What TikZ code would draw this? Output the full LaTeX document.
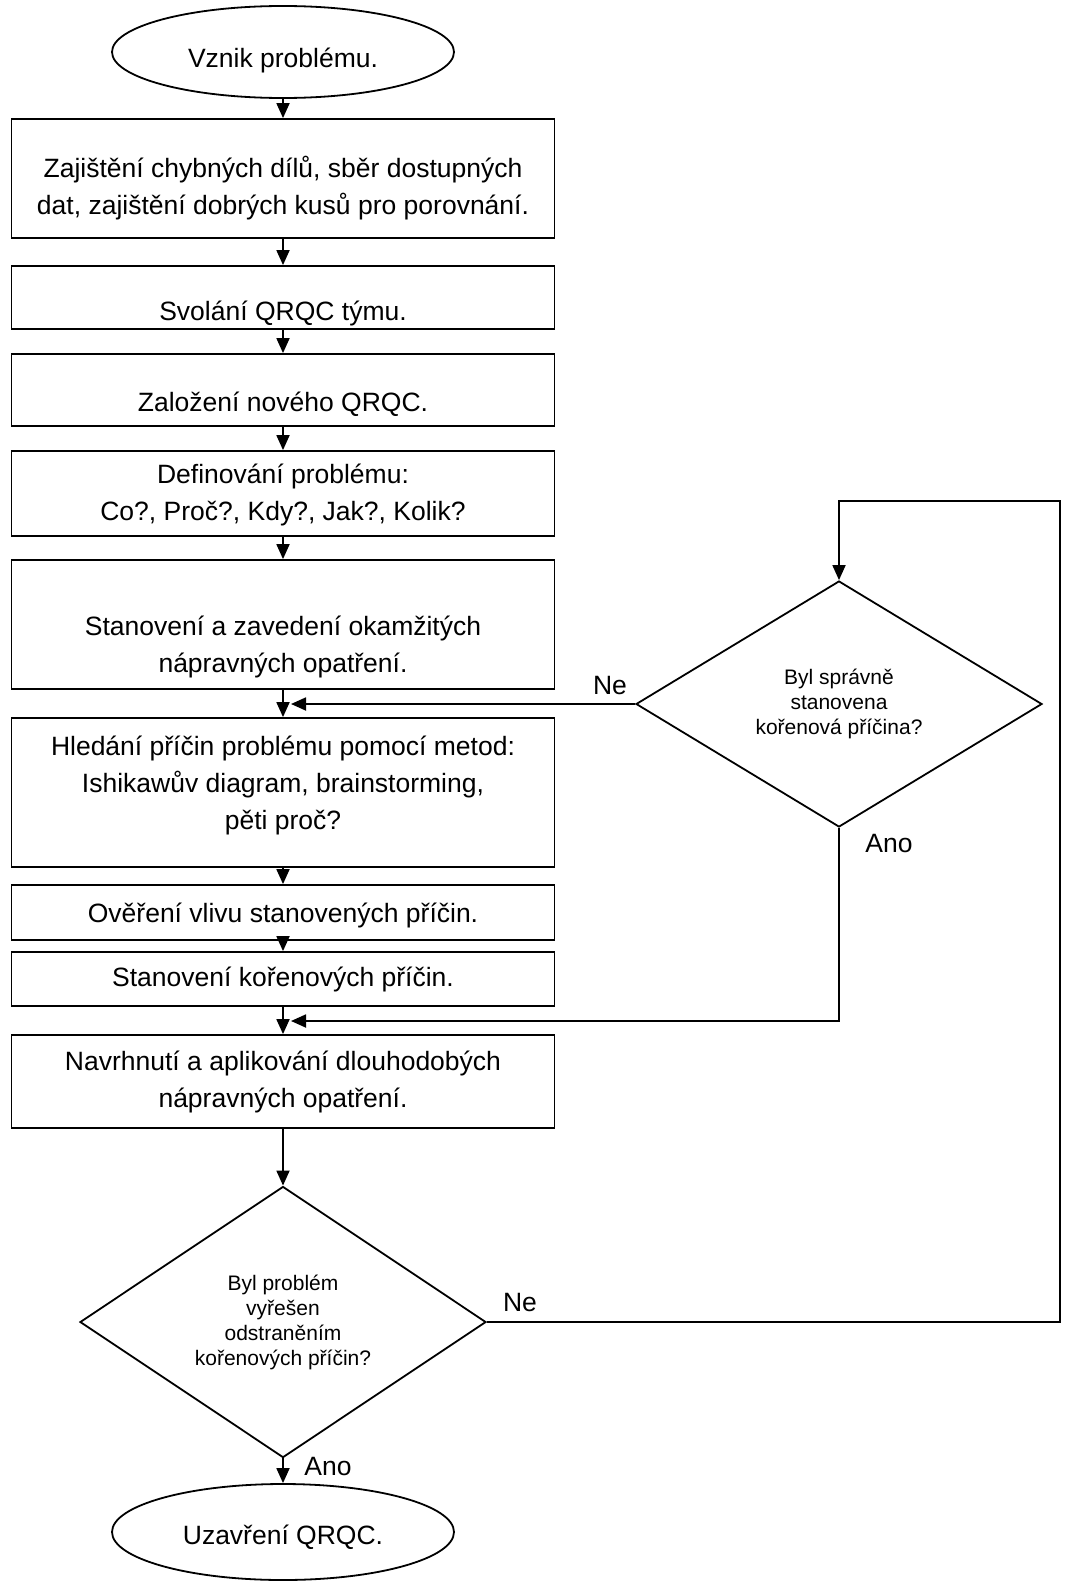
\documentclass[tikz,border=0pt]{standalone}
\usepackage{fontspec}
\setmainfont{Liberation Sans}
\usetikzlibrary{shapes.geometric,arrows.meta,positioning}

% invisible struts that push box text down / up
\newcommand{\dolu}[1]{\rule{0pt}{#1}}
\newcommand{\nahoru}[1]{\rule[-#1]{0pt}{#1}}

\begin{document}
\begin{tikzpicture}[x=1pt,y=-1pt,
    procbox/.style={draw, line width=1.8pt, minimum width=543pt, inner sep=0pt, align=center, font=\fontsize{26.5}{37}\selectfont},
    terminal/.style={draw, ellipse, line width=1.8pt, minimum width=342pt, minimum height=92pt, inner sep=0pt, font=\fontsize{26.5}{37}\selectfont},
    decision/.style={draw, diamond, line width=1.8pt, inner sep=0pt, align=center, font=\fontsize{21}{25}\selectfont},
    lbl/.style={font=\fontsize{26.5}{37}\selectfont},
    arr/.style={line width=1.8pt, -{Triangle[length=15pt,width=13pt]}}]
  \useasboundingbox (0,0) rectangle (1067,1584);

  % main column
  \node[terminal] (vznik) at (283,52) {\dolu{37pt}Vznik problému.};
  \node[procbox, minimum height=119pt] (zajisteni) at (283,178.5) {\dolu{40pt}Zajištění chybných dílů, sběr dostupných\\dat, zajištění dobrých kusů pro porovnání.};
  \node[procbox, minimum height=63pt] (svolani) at (283,297.5) {\dolu{51pt}Svolání QRQC týmu.};
  \node[procbox, minimum height=72pt] (zalozeni) at (283,390) {\dolu{47pt}Založení nového QRQC.};
  \node[procbox, minimum height=85pt] (definovani) at (283,493.5) {\dolu{23pt}Definování problému:\\Co?, Proč?, Kdy?, Jak?, Kolik?};
  \node[procbox, minimum height=129pt] (okamzita) at (283,624.5) {\dolu{65pt}Stanovení a zavedení okamžitých\\nápravných opatření.};
  \node[procbox, minimum height=149pt] (hledani) at (283,792.5) {Hledání příčin problému pomocí metod:\\Ishikawův diagram, brainstorming,\\pěti proč?\nahoru{20pt}};
  \node[procbox, minimum height=55pt] (overeni) at (283,912.5) {\dolu{25pt}Ověření vlivu stanovených příčin.};
  \node[procbox, minimum height=54pt] (korenove) at (283,979) {Stanovení kořenových příčin.};
  \node[procbox, minimum height=93pt] (dlouhodoba) at (283,1081.5) {Navrhnutí a aplikování dlouhodobých\\nápravných opatření.};
  \node[decision, minimum width=406pt, minimum height=246pt] (vyreseno) at (283,1322) {Byl problém\\vyřešen\\odstraněním\\kořenových příčin?};
  \node[terminal, minimum height=96pt] (uzavreni) at (283,1532) {\dolu{29pt}Uzavření QRQC.};

  % side decision
  \node[decision, minimum width=406pt, minimum height=246pt] (spravne) at (839,704) {Byl správně\\stanovena\\kořenová příčina?};

  \coordinate (neTip) at (291,704);
  \coordinate (anoTip) at (291,1021);
  \coordinate (loopTop) at (1060,501);

  \draw[arr] (vznik) -- (zajisteni);
  \draw[arr] (zajisteni) -- (svolani);
  \draw[arr] (svolani) -- (zalozeni);
  \draw[arr] (zalozeni) -- (definovani);
  \draw[arr] (definovani) -- (okamzita);
  \draw[arr] (okamzita) -- (hledani);
  \draw[arr] (hledani) -- (overeni);
  \draw[arr] (overeni) -- (korenove);
  \draw[arr] (korenove) -- (dlouhodoba);
  \draw[arr] (dlouhodoba) -- (vyreseno);
  \draw[arr] (vyreseno) -- (uzavreni);

  \draw[arr] (spravne.west) -- (neTip);
  \draw[arr] (spravne.south) |- (anoTip);
  \draw[arr] (vyreseno.east) -| (loopTop) -| (spravne.north);

  \node[lbl] (ne1) at (610,686) {Ne};
  \node[lbl] (ano1) at (889,844) {Ano};
  \node[lbl] (ne2) at (520,1302) {Ne};
  \node[lbl] (ano2) at (328,1466) {Ano};
\end{tikzpicture}
\end{document}
